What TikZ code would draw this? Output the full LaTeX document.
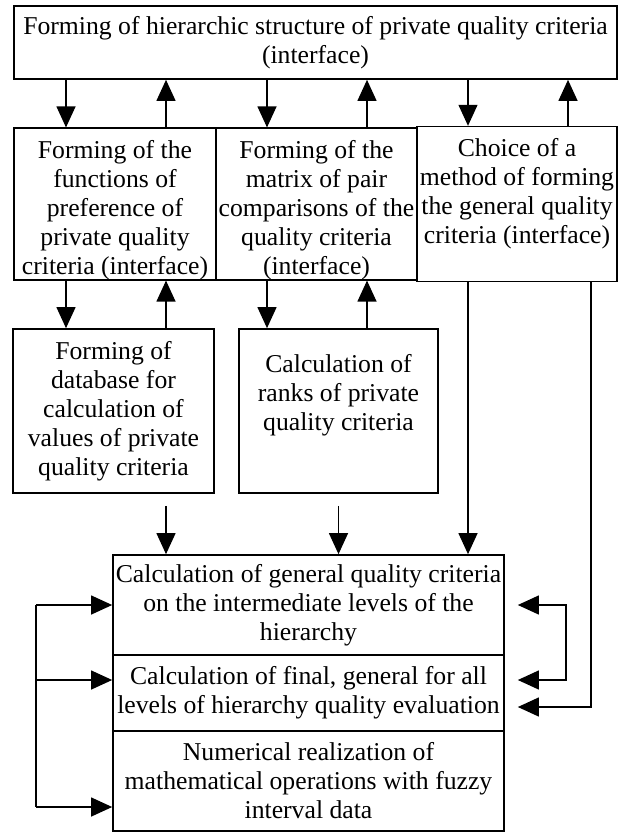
\documentclass[tikz,border=0pt]{standalone}
\usepackage{fontspec}
\setmainfont{Liberation Serif}
\usetikzlibrary{arrows.meta}

\begin{document}
\begin{tikzpicture}[x=1pt, y=-1pt,
    >={Triangle[length=21pt,width=19pt]},
    box/.style={draw, line width=1.7pt, align=center, inner sep=0pt,
      font=\fontsize{25.7}{29}\selectfont},
    arr/.style={line width=1.2pt, ->}]
  \useasboundingbox (0,0) rectangle (622,832);
  % blocks
  \node[box, minimum width=603pt, minimum height=73pt] (top) at (315.5,42.5)
    {Forming of hierarchic structure of private quality criteria\\(interface)};
  \node[box, minimum width=202pt, minimum height=150pt] (pref) at (115,204)
    {\rule{0pt}{30pt}Forming of the\\functions of\\preference of\\private quality\\criteria (interface)};
  \node[box, minimum width=201pt, minimum height=150pt] (matrix) at (316.5,204)
    {\rule{0pt}{30pt}Forming of the\\matrix of pair\\comparisons of the\\quality criteria\\(interface)};
  \node[box, minimum width=200pt, minimum height=150pt] (method) at (517,204)
    {\rule{0pt}{30pt}Choice of a\\method of forming\\the general quality\\criteria (interface)\\ \strut};
  \node[box, minimum width=201pt, minimum height=164pt] (base) at (113.5,411)
    {Forming of\\database for\\calculation of\\values of private\\quality criteria};
  \node[box, minimum width=199pt, minimum height=164pt] (ranks) at (338.5,411)
    {Calculation of\\ranks of private\\quality criteria\\ \strut};
  \node[box, minimum width=391pt, minimum height=100pt] (inter) at (308.5,605)
    {Calculation of general quality criteria\\on the intermediate levels of the\\hierarchy};
  \node[box, minimum width=391pt, minimum height=76pt] (final) at (308.5,693)
    {Calculation of final, general for all\\levels of hierarchy quality evaluation};
  \node[box, minimum width=391pt, minimum height=100pt] (numer) at (308.5,781)
    {Numerical realization of\\mathematical operations with fuzzy\\interval data};
  % columns and rows of the connectors
  \coordinate (c1) at (66,0);
  \coordinate (c2) at (166,0);
  \coordinate (c3) at (267,0);
  \coordinate (c4) at (367,0);
  \coordinate (c5) at (468,0);
  \coordinate (c6) at (568,0);
  \coordinate (c7) at (591,0);
  \coordinate (bus) at (36,0);
  \coordinate (loop) at (566,0);
  \coordinate (r1) at (0,605);
  \coordinate (r2) at (0,680);
  \coordinate (r3) at (0,707);
  \coordinate (r4) at (0,807);
  % top <-> second row
  \draw[arr] (top.south -| c1) -- (pref.north -| c1);
  \draw[arr] (pref.north -| c2) -- (top.south -| c2);
  \draw[arr] (top.south -| c3) -- (matrix.north -| c3);
  \draw[arr] (matrix.north -| c4) -- (top.south -| c4);
  \draw[arr] (top.south -| c5) -- (method.north -| c5);
  \draw[arr] (method.north -| c6) -- (top.south -| c6);
  % second row <-> third row
  \draw[arr] (pref.south -| c1) -- (base.north -| c1);
  \draw[arr] (base.north -| c2) -- (pref.south -| c2);
  \draw[arr] (matrix.south -| c3) -- (ranks.north -| c3);
  \draw[arr] (ranks.north -| c4) -- (matrix.south -| c4);
  % into the calculation block
  \draw[arr, shorten <=12pt] (base.south -| c2) -- (inter.north -| c2);
  \draw[arr, shorten <=12pt] (ranks.south) -- (inter.north -| ranks.south);
  \draw[arr] (method.south -| c5) -- (inter.north -| c5);
  \draw[arr, shorten >=13pt] (method.south -| c7) |- (final.east |- r3);
  \draw[arr, <->, shorten <=13pt, shorten >=13pt]
    (inter.east |- r1) -| (loop |- r2) -- (final.east |- r2);
  % left bus
  \draw[line width=1.2pt] (bus |- r1) -- (bus |- r4);
  \draw[arr] (bus |- r1) -- (inter.west |- r1);
  \draw[arr] (bus |- r2) -- (final.west |- r2);
  \draw[arr] (bus |- r4) -- (numer.west |- r4);
\end{tikzpicture}
\end{document}
